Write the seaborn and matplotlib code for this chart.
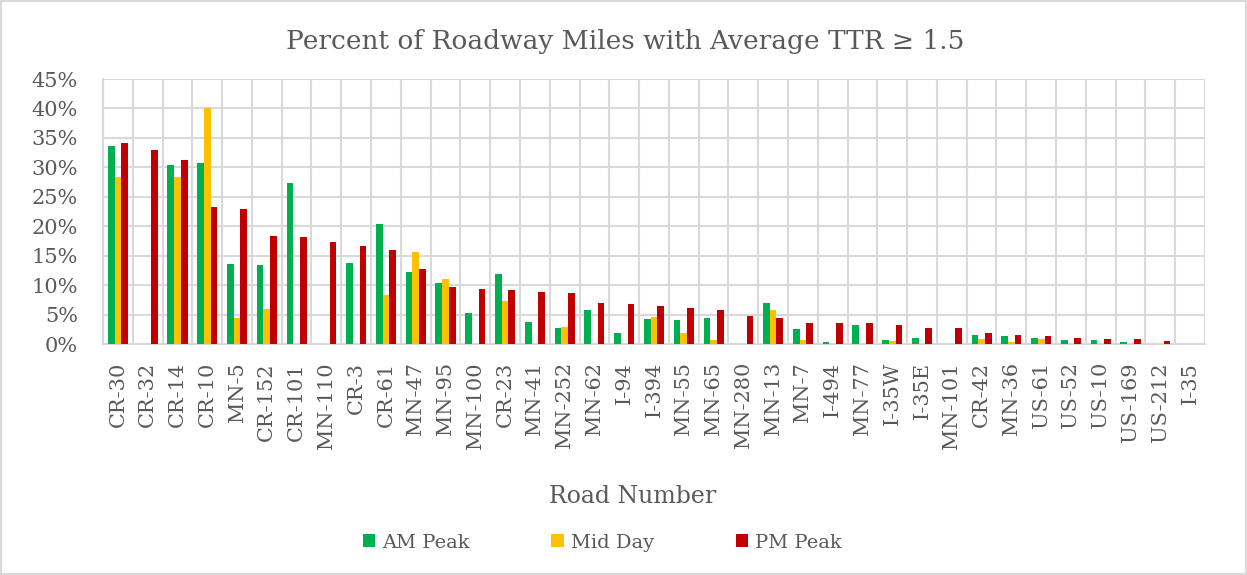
import numpy as np
import pandas as pd
import matplotlib.pyplot as plt
import seaborn as sns
from matplotlib.patches import Patch, Rectangle

# Road numbers and percent of miles with TTR >= 1.5
roads = ['CR-30', 'CR-32', 'CR-14', 'CR-10', 'MN-5', 'CR-152', 'CR-101', 'MN-110',
         'CR-3', 'CR-61', 'MN-47', 'MN-95', 'MN-100', 'CR-23', 'MN-41', 'MN-252',
         'MN-62', 'I-94', 'I-394', 'MN-55', 'MN-65', 'MN-280', 'MN-13', 'MN-7',
         'I-494', 'MN-77', 'I-35W', 'I-35E', 'MN-101', 'CR-42', 'MN-36', 'US-61',
         'US-52', 'US-10', 'US-169', 'US-212', 'I-35']
am_peak = [33.6, 0, 30.4, 30.8, 13.6, 13.4, 27.3, 0, 13.8, 20.3, 12.3, 10.3, 5.3,
           11.9, 3.7, 2.7, 5.8, 1.9, 4.2, 4.0, 4.5, 0, 6.9, 2.5, 0.3, 3.3, 0.6,
           1.1, 0, 1.6, 1.35, 1.1, 0.7, 0.7, 0.35, 0, 0]
mid_day = [28.3, 0, 28.3, 40.1, 4.5, 6.0, 0, 0, 0, 8.4, 15.6, 11.1, 0, 7.3, 0,
           2.9, 0, 0, 4.6, 1.9, 0.7, 0, 5.7, 0.7, 0, 0, 0.45, 0, 0, 0.9, 0.35,
           0.85, 0, 0, 0, 0, 0]
pm_peak = [34.1, 32.9, 31.3, 23.2, 22.9, 18.4, 18.1, 17.3, 16.6, 15.9, 12.8, 9.7,
           9.4, 9.1, 8.9, 8.6, 6.9, 6.8, 6.5, 6.1, 5.7, 4.8, 4.4, 3.6, 3.6, 3.5,
           3.3, 2.7, 2.65, 1.9, 1.5, 1.35, 1.1, 0.9, 0.9, 0.5, 0]
periods = ['AM Peak', 'Mid Day', 'PM Peak']
colors = ['#00B050', '#FFC000', '#C00000']

df = pd.DataFrame({'Road Number': roads * 3,
                   'Period': np.repeat(periods, len(roads)),
                   'Percent': am_peak + mid_day + pm_peak})

sns.set_style('white')
plt.rcParams['font.family'] = ['DejaVu Serif']
txt = '#595959'
grid = '#D9D9D9'

fig = plt.figure(figsize=(12.47, 5.75), dpi=100)
ax = fig.add_axes([0.0826, 0.4017, 0.8837, 0.4609])

sns.barplot(data=df, x='Road Number', y='Percent', hue='Period', hue_order=periods,
            palette=colors, width=0.675, saturation=1, ax=ax, legend=False,
            linewidth=0, edgecolor='none', zorder=3)

ax.set_ylim(0, 45)
ax.set_yticks(np.arange(0, 46, 5))
ax.set_yticklabels([f'{v}%' for v in range(0, 46, 5)])
ax.set_xlim(-0.5, len(roads) - 0.5)
ax.set_xticks(np.arange(-0.5, len(roads)), minor=True)
ax.grid(axis='y', which='major', color=grid, linewidth=1.5, zorder=0)
ax.grid(axis='x', which='minor', color=grid, linewidth=1.5, zorder=0)
ax.set_axisbelow(True)
ax.tick_params(axis='both', which='both', length=0, colors=txt, labelsize=15)
ax.tick_params(axis='y', pad=18)
ax.tick_params(axis='x', pad=13, rotation=90)
for side in ['top', 'right']:
    ax.spines[side].set_visible(False)
for side in ['left', 'bottom']:
    ax.spines[side].set_color(grid)
    ax.spines[side].set_linewidth(1.5)
ax.set_xlabel('')
ax.set_ylabel('')

fig.text(0.501, 0.927, 'Percent of Roadway Miles with Average TTR \u2265 1.5',
         ha='center', va='center', fontsize=19, color=txt)
fig.text(0.507, 0.136, 'Road Number', ha='center', va='center', fontsize=17, color=txt)

handles = [Patch(facecolor=c, edgecolor='none') for c in colors]
fig.legend(handles, periods, loc='center', bbox_to_anchor=(0.483, 0.056), ncol=3,
           frameon=False, fontsize=14, labelcolor=txt, handlelength=0.65,
           handleheight=0.65, handletextpad=0.35, columnspacing=4.2)

fig.patches.append(Rectangle((0.001, 0.002), 0.998, 0.996, transform=fig.transFigure,
                             fill=False, edgecolor=grid, linewidth=1.5))

fig.savefig('out.png', dpi=100)
